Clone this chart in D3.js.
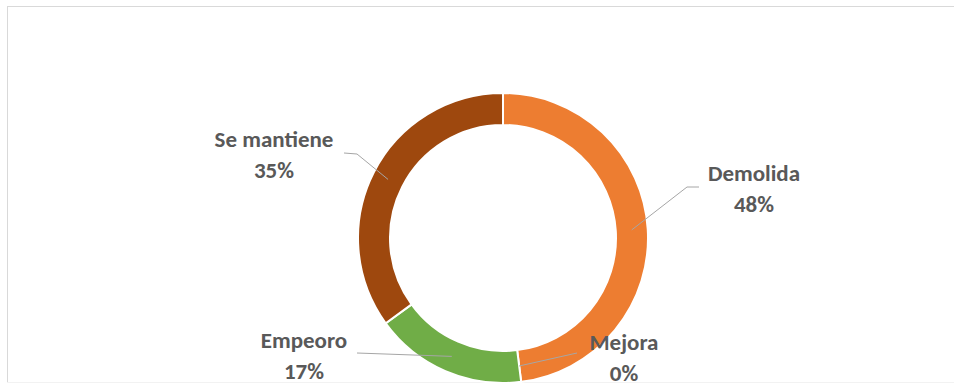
<!DOCTYPE html>
<html>
<head>
<meta charset="utf-8">
<script src="https://cdn.jsdelivr.net/npm/d3@7/dist/d3.min.js"></script>
<style>
  html, body { margin: 0; padding: 0; background: #ffffff; }
  svg { display: block; }
  .lbl { font-family: Calibri, Carlito, Lato, "Open Sans", sans-serif; font-weight: 700; fill: #595959; }
</style>
</head>
<body>
<svg id="chart" width="954" height="387"></svg>
<script>
// Estado de la vivienda
const categories = ["Demolida", "Mejora", "Empeoro", "Se mantiene"];
const values = [48, 0, 17, 35];
const labelTexts = ["48%", "0%", "17%", "35%"];
const colors = ["#ED7D31", "#A5A5A5", "#70AD47", "#9E480E"];

// Label layout: text centre, first baseline, and leader-line bend points
const labelLayout = [
  { x: 754, y: 181, bend: [[687, 187], [699, 187]] },
  { x: 624, y: 350, bend: [[577, 353]] },
  { x: 304, y: 348, bend: [[357, 353]] },
  { x: 274, y: 147, bend: [[357, 154], [344, 153]] }
];

const width = 954, height = 387;
const cx = 503, cy = 238;
const outerR = 145, innerR = 113;

const svg = d3.select("#chart");

// Chart-area frame
svg.append("rect")
  .attr("x", 7.5).attr("y", 6.5)
  .attr("width", 960).attr("height", 376)
  .attr("fill", "#ffffff")
  .attr("stroke", "#d9d9d9")
  .attr("stroke-width", 1);
svg.append("line")
  .attr("x1", 7).attr("x2", width).attr("y1", 382.5).attr("y2", 382.5)
  .attr("stroke", "#f2f2f2");

const pie = d3.pie().sort(null).value(d => d)(values);
const arc = d3.arc().innerRadius(innerR).outerRadius(outerR);
const midArc = d3.arc().innerRadius((innerR + outerR) / 2).outerRadius((innerR + outerR) / 2);

const g = svg.append("g").attr("transform", `translate(${cx},${cy})`);

g.selectAll("path.slice")
  .data(pie)
  .join("path")
  .attr("class", "slice")
  .attr("d", arc)
  .attr("fill", (d, i) => colors[i])
  .attr("stroke", "#ffffff")
  .attr("stroke-width", d => d.endAngle - d.startAngle > 0 ? 2 : 0);

// Leader lines from the middle of each ring segment to its label
const line = d3.line();
pie.forEach((d, i) => {
  const c = midArc.centroid(d);
  const pts = [[c[0] + cx, c[1] + cy]].concat(labelLayout[i].bend);
  svg.append("path")
    .attr("d", line(pts))
    .attr("fill", "none")
    .attr("stroke", "#a6a6a6")
    .attr("stroke-width", 1);
});

// Data labels
labelLayout.forEach((p, i) => {
  const t = svg.append("text")
    .attr("class", "lbl")
    .attr("text-anchor", "middle")
    .attr("font-size", 23);
  t.append("tspan").attr("x", p.x).attr("y", p.y).text(categories[i]);
  t.append("tspan").attr("x", p.x).attr("y", p.y + 31).text(labelTexts[i]);
});
</script>
</body>
</html>
